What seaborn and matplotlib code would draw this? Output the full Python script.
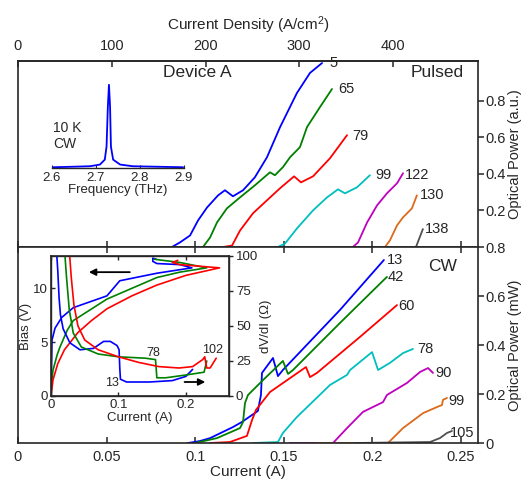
import numpy as np
import pandas as pd
import seaborn as sns
import matplotlib.pyplot as plt

# ---- pulsed L-I curves (top panel): current (A), optical power (a.u.)
pulsed_labels = ['5', '65', '79', '99', '122', '130', '138']
p5_i = [0.0869, 0.0914, 0.0971, 0.1016, 0.1067, 0.1129, 0.1168, 0.1213, 0.1270, 0.1337, 0.1405, 0.1479, 0.1574, 0.1648, 0.1716]
p5_p = [0.0, 0.025, 0.063, 0.145, 0.216, 0.282, 0.310, 0.277, 0.310, 0.381, 0.490, 0.655, 0.841, 0.951, 1.005]
p65_i = [0.1044, 0.1084, 0.1123, 0.1179, 0.1253, 0.1337, 0.1422, 0.1450, 0.1495, 0.1535, 0.1591, 0.1631, 0.1704, 0.1772]
p65_p = [0.0, 0.052, 0.134, 0.211, 0.271, 0.337, 0.408, 0.392, 0.436, 0.490, 0.545, 0.655, 0.764, 0.863]
p79_i = [0.1157, 0.1208, 0.1253, 0.1326, 0.1405, 0.1479, 0.1558, 0.1597, 0.1665, 0.1761, 0.1857]
p79_p = [0.0, 0.008, 0.090, 0.184, 0.255, 0.321, 0.386, 0.353, 0.386, 0.485, 0.611]
p99_i = [0.1467, 0.1507, 0.1574, 0.1665, 0.1744, 0.1806, 0.1845, 0.1913, 0.1986]
p99_p = [0.0, 0.019, 0.101, 0.200, 0.271, 0.315, 0.293, 0.326, 0.392]
p122_i = [0.1890, 0.1919, 0.1970, 0.2026, 0.2082, 0.2139, 0.2173]
p122_p = [0.0, 0.025, 0.134, 0.227, 0.293, 0.348, 0.403]
p130_i = [0.2071, 0.2099, 0.2139, 0.2173, 0.2223, 0.2251]
p130_p = [0.0, 0.036, 0.118, 0.162, 0.211, 0.282]
p138_i = [0.2246, 0.2285]
p138_p = [0.0, 0.098]

# ---- CW L-I curves (bottom panel): current (A), optical power (mW)
cw_labels = ['13', '42', '60', '78', '90', '99', '105']
c13_i = [0.0959, 0.1027, 0.1084, 0.1213, 0.1264, 0.1354, 0.1371, 0.1377, 0.1439, 0.1467, 0.1495, 0.1591, 0.1817, 0.2065]
c13_p = [0.0, 0.008, 0.020, 0.065, 0.086, 0.131, 0.196, 0.286, 0.347, 0.273, 0.298, 0.371, 0.543, 0.747]
c42_i = [0.0999, 0.1123, 0.1253, 0.1270, 0.1281, 0.1298, 0.1383, 0.1495, 0.1524, 0.1552, 0.1817, 0.2082]
c42_p = [0.0, 0.020, 0.061, 0.086, 0.163, 0.196, 0.257, 0.335, 0.282, 0.298, 0.490, 0.678]
c60_i = [0.1084, 0.1196, 0.1292, 0.1321, 0.1343, 0.1422, 0.1625, 0.1648, 0.1687, 0.1930, 0.2139]
c60_p = [0.0, 0.004, 0.029, 0.094, 0.135, 0.208, 0.310, 0.269, 0.286, 0.433, 0.563]
c78_i = [0.1326, 0.1467, 0.1495, 0.1574, 0.1761, 0.1857, 0.1874, 0.1998, 0.2032, 0.2099, 0.2173, 0.2229]
c78_p = [0.0, 0.004, 0.041, 0.106, 0.237, 0.278, 0.298, 0.371, 0.298, 0.327, 0.367, 0.384]
c90_i = [0.1535, 0.1778, 0.1857, 0.1947, 0.2060, 0.2082, 0.2195, 0.2269, 0.2314, 0.2342]
c90_p = [0.0, 0.0, 0.061, 0.127, 0.167, 0.196, 0.245, 0.290, 0.306, 0.286]
c99_i = [0.1680, 0.2088, 0.2173, 0.2286, 0.2365, 0.2393, 0.2398, 0.2421]
c99_p = [0.0, 0.0, 0.061, 0.122, 0.147, 0.155, 0.176, 0.184]
c105_i = [0.1900, 0.2325, 0.2381, 0.2421, 0.2449]
c105_p = [0.0, 0.004, 0.020, 0.041, 0.049]

# ---- lasing spectrum inset (10 K, CW)
freq_thz = [2.603, 2.686, 2.709, 2.720, 2.724, 2.727, 2.7295, 2.732, 2.734, 2.739, 2.755, 2.784, 2.898]
spec_amp = [0.004, 0.016, 0.036, 0.095, 0.25, 0.73, 0.99, 0.73, 0.25, 0.095, 0.036, 0.016, 0.004]

# ---- I-V and dV/dI inset (bottom panel)
iv_labels = ['13', '78', '102']
iv13_i = [0.0, 0.0, 0.0015, 0.006, 0.016, 0.033, 0.083, 0.102, 0.157, 0.209, 0.191, 0.157, 0.151, 0.151, 0.156]
iv13_v = [0.0, 0.3, 5.2, 6.3, 7.3, 8.2, 9.3, 10.7, 11.4, 11.9, 12.2, 12.3, 12.5, 12.8, 12.7]
iv78_i = [0.0, 0.0015, 0.003, 0.009, 0.013, 0.024, 0.033, 0.058, 0.083, 0.157, 0.191, 0.231, 0.191, 0.153]
iv78_v = [0.0, 1.5, 2.4, 3.8, 4.5, 6.1, 7.0, 8.0, 9.0, 11.0, 11.5, 11.9, 12.4, 12.7]
iv102_i = [0.0, 0.003, 0.010, 0.020, 0.040, 0.060, 0.083, 0.120, 0.157, 0.200, 0.250, 0.191, 0.180, 0.188]
iv102_v = [0.0, 1.5, 3.0, 4.3, 5.9, 7.0, 8.1, 9.3, 10.3, 11.2, 11.9, 12.2, 12.4, 12.6]
dr13_i = [0.008, 0.010, 0.012, 0.014, 0.018, 0.028, 0.043, 0.063, 0.078, 0.088, 0.098, 0.101, 0.102, 0.103, 0.112, 0.146, 0.180, 0.200, 0.210]
dr13_r = [105, 90, 70, 58, 48, 38, 33, 34, 39, 39, 36, 33, 20, 12, 10, 10, 11, 14, 19]
dr78_i = [0.020, 0.023, 0.027, 0.033, 0.045, 0.070, 0.100, 0.140, 0.155, 0.157, 0.170, 0.200, 0.227, 0.231]
dr78_r = [105, 85, 62, 45, 35, 30, 28, 27, 26, 13, 13, 15, 17, 25]
dr102_i = [0.027, 0.030, 0.034, 0.040, 0.050, 0.070, 0.100, 0.130, 0.160, 0.190, 0.210, 0.225, 0.228, 0.231, 0.236, 0.245]
dr102_r = [105, 85, 65, 50, 40, 33, 28, 24, 21, 20, 21, 26, 28, 20, 20, 27]

colors = ['#0000ff', '#008000', '#ff0000', '#00bfbf', '#bf00bf', '#dd6a1a', '#505050']
J_PER_A = 1890.0  # A/cm^2 per A

sns.set_style('ticks')
plt.rcParams['font.family'] = ['Liberation Sans', 'DejaVu Sans']
plt.rcParams['axes.linewidth'] = 1.2
plt.rcParams['mathtext.default'] = 'regular'


def frame(names, xs, ys):
    parts = []
    for n, x, y in zip(names, xs, ys):
        parts.append(pd.DataFrame({'x': x, 'y': y, 'curve': n}))
    return pd.concat(parts, ignore_index=True)


df_pulsed = frame(pulsed_labels,
                  [p5_i, p65_i, p79_i, p99_i, p122_i, p130_i, p138_i],
                  [p5_p, p65_p, p79_p, p99_p, p122_p, p130_p, p138_p])
df_cw = frame(cw_labels,
              [c13_i, c42_i, c60_i, c78_i, c90_i, c99_i, c105_i],
              [c13_p, c42_p, c60_p, c78_p, c90_p, c99_p, c105_p])
df_iv = frame(iv_labels, [iv13_i, iv78_i, iv102_i], [iv13_v, iv78_v, iv102_v])
df_dr = frame(iv_labels, [dr13_i, dr78_i, dr102_i], [dr13_r, dr78_r, dr102_r])
df_spec = pd.DataFrame({'f': freq_thz, 'a': spec_amp})

fig = plt.figure(figsize=(5.24, 4.8), dpi=100)
ax_top = fig.add_axes([0.03435, 0.48542, 0.87786, 0.38750])
ax_bot = fig.add_axes([0.03435, 0.07708, 0.87786, 0.40833])

# top panel: pulsed
sns.lineplot(data=df_pulsed, x='x', y='y', hue='curve', palette=dict(zip(pulsed_labels, colors)),
             sort=False, estimator=None, legend=False, lw=1.3, ax=ax_top)
ax_top.set_xlim(0, 0.2596)
ax_top.set_ylim(0, 1.016)
ax_top.set_yticks([0.2, 0.4, 0.6, 0.8])
ax_top.yaxis.tick_right()
ax_top.yaxis.set_label_position('right')
ax_top.set_ylabel('Optical Power (a.u.)', fontsize=10.5, labelpad=2)
ax_top.set_xlabel('')
ax_top.set_xticks([0, 0.05, 0.1, 0.15, 0.2, 0.25])
ax_top.tick_params(axis='x', direction='in', length=4, width=1.1, labelbottom=False, top=False)
ax_top.tick_params(axis='y', direction='out', length=4, width=1.1, labelsize=10.5, pad=1)
sec = ax_top.secondary_xaxis('top', functions=(lambda i: i * J_PER_A, lambda j: j / J_PER_A))
sec.set_xticks([0, 100, 200, 300, 400])
sec.tick_params(direction='in', length=4, width=1.1, labelsize=10.5, pad=6)
sec.set_xlabel('Current Density (A/cm$^2$)', fontsize=11, labelpad=6)

top_lab_x = [0.1760, 0.1806, 0.1885, 0.2015, 0.2184, 0.2269, 0.2297]
top_lab_y = [1.005, 0.863, 0.605, 0.392, 0.392, 0.282, 0.096]
for t, x, y in zip(pulsed_labels, top_lab_x, top_lab_y):
    ax_top.text(x, y, t, fontsize=10.5, ha='left', va='center')

# bottom panel: CW
sns.lineplot(data=df_cw, x='x', y='y', hue='curve', palette=dict(zip(cw_labels, colors)),
             sort=False, estimator=None, legend=False, lw=1.3, ax=ax_bot)
ax_bot.set_xlim(0, 0.2596)
ax_bot.set_ylim(0, 0.8)
ax_bot.set_xticks([0, 0.05, 0.1, 0.15, 0.2, 0.25])
ax_bot.set_xticklabels(['0', '0.05', '0.1', '0.15', '0.2', '0.25'])
ax_bot.set_yticks([0, 0.2, 0.4, 0.6, 0.8])
ax_bot.set_yticklabels(['0', '0.2', '0.4', '0.6', '0.8'])
ax_bot.yaxis.tick_right()
ax_bot.yaxis.set_label_position('right')
ax_bot.set_ylabel('Optical Power (mW)', fontsize=10.5, labelpad=2)
ax_bot.set_xlabel('Current (A)', fontsize=11, labelpad=1)
ax_bot.tick_params(axis='x', direction='in', length=4, width=1.1, top=True, labelsize=10.5, pad=5)
ax_bot.tick_params(axis='y', direction='out', length=4, width=1.1, labelsize=10.5, pad=1)

bot_lab_x = [0.2082, 0.2088, 0.2144, 0.2252, 0.2353, 0.2427, 0.2438]
bot_lab_y = [0.747, 0.678, 0.559, 0.384, 0.286, 0.171, 0.041]
for t, x, y in zip(cw_labels, bot_lab_x, bot_lab_y):
    ax_bot.text(x, y, t, fontsize=10.5, ha='left', va='center')

fig.text(0.376, 0.848, 'Device A', fontsize=12.5, ha='center', va='center')
fig.text(0.834, 0.848, 'Pulsed', fontsize=12.5, ha='center', va='center')
fig.text(0.845, 0.444, 'CW', fontsize=12.5, ha='center', va='center')

# spectrum inset
ax_sp = fig.add_axes([0.0992, 0.65, 0.2519, 0.175])
ax_sp.patch.set_alpha(0)
sns.lineplot(data=df_spec, x='f', y='a', color='#0000ff', lw=1.3, sort=False, estimator=None, ax=ax_sp)
ax_sp.set_xlim(2.6, 2.9)
ax_sp.set_ylim(-0.005, 1.0)
ax_sp.set_xticks([2.6, 2.7, 2.8, 2.9])
ax_sp.set_yticks([])
for s in ['left', 'right', 'top']:
    ax_sp.spines[s].set_visible(False)
ax_sp.spines['bottom'].set_linewidth(1.0)
ax_sp.tick_params(axis='x', direction='in', length=2, width=0.8, labelsize=9.5, pad=3)
ax_sp.set_xlabel('Frequency (THz)', fontsize=9.5, labelpad=0)
ax_sp.set_ylabel('')
fig.text(0.101, 0.717, '10 K\nCW', fontsize=10, ha='left', va='center', linespacing=1.15)

# I-V / dV/dI inset
ax_in = fig.add_axes([0.09733, 0.175, 0.33969, 0.29167])
ax_in.set_facecolor('white')
sns.lineplot(data=df_iv, x='x', y='y', hue='curve', palette=dict(zip(iv_labels, colors[:3])),
             sort=False, estimator=None, legend=False, lw=1.2, ax=ax_in)
ax_in.set_xlim(0, 0.264)
ax_in.set_ylim(0, 13)
ax_in.set_xticks([0, 0.1, 0.2])
ax_in.set_xticklabels(['0', '0.1', '0.2'])
ax_in.set_yticks([0, 5, 10])
ax_in.tick_params(axis='both', direction='in', length=3, width=1.0, labelsize=9.5, pad=2, top=True)
ax_in.set_xlabel('Current (A)', fontsize=9.5, labelpad=1)
ax_in.set_ylabel('Bias (V)', fontsize=9.5, labelpad=1)
for s in ax_in.spines.values():
    s.set_linewidth(1.0)

ax_in2 = ax_in.twinx()
sns.lineplot(data=df_dr, x='x', y='y', hue='curve', palette=dict(zip(iv_labels, colors[:3])),
             sort=False, estimator=None, legend=False, lw=1.2, ax=ax_in2)
ax_in2.set_ylim(0, 100)
ax_in2.set_yticks([0, 25, 50, 75, 100])
ax_in2.tick_params(axis='y', direction='out', length=3, width=1.0, labelsize=9.5, pad=2)
ax_in2.set_ylabel('dV/dI (\u03a9)', fontsize=9.5, labelpad=1)
ax_in2.set_xlabel('')

ax_in.annotate('', xy=(0.052, 11.5), xytext=(0.121, 11.5),
               arrowprops=dict(arrowstyle='-|>', color='k', lw=1.3, mutation_scale=10))
ax_in2.annotate('', xy=(0.233, 10), xytext=(0.194, 10),
                arrowprops=dict(arrowstyle='-|>', color='k', lw=1.3, mutation_scale=10))
in_lab_x = [0.090, 0.151, 0.240]
in_lab_y = [9.3, 30.7, 32.9]
for t, x, y in zip(iv_labels, in_lab_x, in_lab_y):
    ax_in2.text(x, y, t, fontsize=9, ha='center', va='center')

fig.savefig('out.png', dpi=100)
